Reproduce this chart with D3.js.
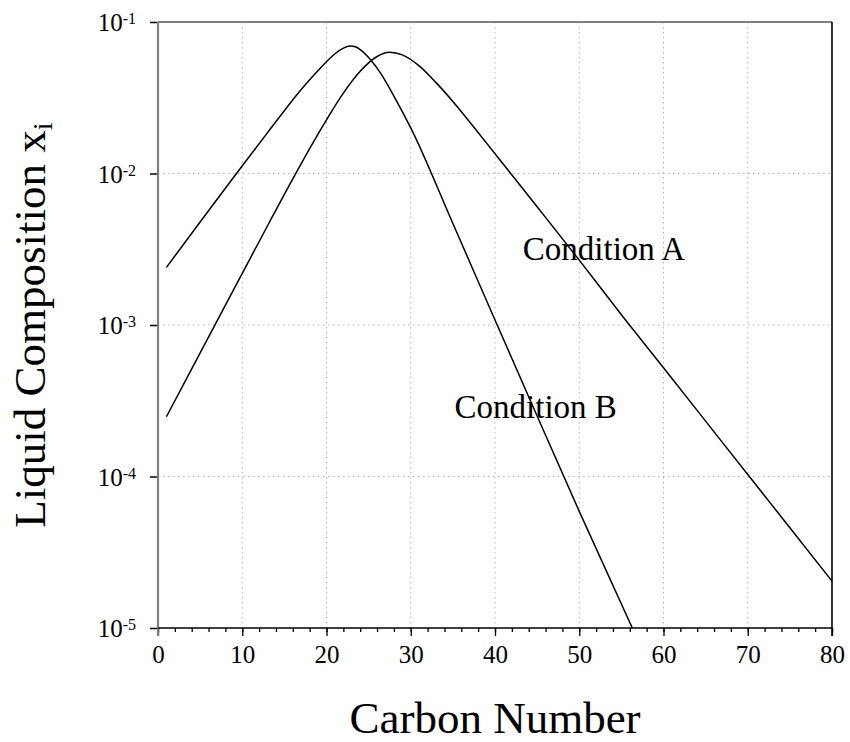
<!DOCTYPE html>
<html lang="en">
<head>
  <meta charset="UTF-8">
  <title>Liquid Composition vs Carbon Number</title>
  <style>
    body { margin: 0; background: #fff; }
    svg text { font-family: "Liberation Serif", "Times New Roman", serif; fill: #000; }
  </style>
</head>
<body>
  <div id="chart"></div>
  <script src="https://d3js.org/d3.v7.min.js"></script>
  <script>

    // Condition A (broad distribution)
    const carbonA = [1, 4, 7, 10, 13, 16, 18, 20, 22, 24, 26, 27.5, 29, 31, 33, 35, 37.5, 40, 45, 50, 55, 60, 65, 70, 75, 80];
    const xiA = [2.48e-4, 5.13e-4, 1.06e-3, 2.19e-3, 4.52e-3, 9.23e-3, 1.46e-2, 2.26e-2, 3.39e-2, 4.73e-2, 5.92e-2, 6.31e-2,
                 6.07e-2, 5.13e-2, 3.98e-2, 2.99e-2, 2.02e-2, 1.35e-2, 6.03e-3, 2.68e-3, 1.17e-3, 5.22e-4, 2.32e-4,
                 1.03e-4, 4.59e-5, 2.04e-5];

    // Condition B (narrow distribution)
    const carbonB = [1, 5, 9, 13, 17, 19, 20, 21, 22, 22.8, 23.5, 24, 25.1, 26.4, 28, 30, 35, 40, 45, 50, 56.3];
    const xiB = [2.40e-3, 4.79e-3, 9.48e-3, 1.86e-2, 3.59e-2, 4.79e-2, 5.47e-2, 6.17e-2, 6.73e-2, 6.95e-2, 6.84e-2,
                 6.58e-2, 5.75e-2, 4.62e-2, 3.24e-2, 2.0e-2, 4.68e-3, 1.08e-3, 2.51e-4, 5.89e-5, 1.0e-5];

    const xTicks = [0, 10, 20, 30, 40, 50, 60, 70, 80];
    const yTicks = [1e-5, 1e-4, 1e-3, 1e-2, 1e-1];

    // label anchors in data units
    const labelNames = ["Condition A", "Condition B"];
    const labelCarbon = [43.3, 35.2];
    const labelXi = [2.69e-3, 2.42e-4];

    const serif = "'Liberation Serif', 'Times New Roman', serif";

    const width = 850,
          height = 742,
          margin = {top: 22, right: 18, bottom: 114, left: 158};

    const svg = d3.select("#chart")
      .append("svg")
      .attr("width", width)
      .attr("height", height)
      .attr("font-family", serif);

    const x = d3.scaleLinear([0, 80], [margin.left, width - margin.right]);
    const y = d3.scaleLog([1e-5, 1e-1], [height - margin.bottom, margin.top]);

    const x0 = x.range()[0], x1 = x.range()[1];
    const y0 = y.range()[0], y1 = y.range()[1];

    // dotted grid
    svg.append("g")
      .selectAll("line")
      .data(xTicks.slice(1, -1))
      .join("line")
      .attr("x1", d => x(d)).attr("x2", d => x(d))
      .attr("y1", y1).attr("y2", y0)
      .attr("stroke", "#b4b4b4")
      .attr("stroke-dasharray", "1.5,3.5");

    svg.append("g")
      .selectAll("line")
      .data(yTicks.slice(1, -1))
      .join("line")
      .attr("x1", x0).attr("x2", x1)
      .attr("y1", d => y(d)).attr("y2", d => y(d))
      .attr("stroke", "#b4b4b4")
      .attr("stroke-dasharray", "1.5,3.5");

    // x axis: minor ticks every 2, major every 10
    svg.append("g")
      .attr("transform", `translate(0,${y0})`)
      .call(d3.axisBottom(x).tickValues(d3.range(0, 81, 2)).tickSize(4).tickFormat(""))
      .call(g => g.select(".domain").remove())
      .call(g => g.selectAll("line").attr("stroke-width", 1.3));

    svg.append("g")
      .attr("transform", `translate(0,${y0})`)
      .call(d3.axisBottom(x).tickValues(xTicks).tickSize(8).tickPadding(9))
      .attr("font-family", serif)
      .attr("font-size", 25)
      .call(g => g.select(".domain").remove())
      .call(g => g.selectAll("line").attr("stroke-width", 1.3));

    // y axis: decades with superscript exponents
    svg.append("g")
      .attr("transform", `translate(${x0},0)`)
      .call(d3.axisLeft(y).tickValues(yTicks).tickSize(8).tickPadding(14).tickFormat(""))
      .attr("font-family", serif)
      .attr("font-size", 25)
      .call(g => g.select(".domain").remove())
      .call(g => g.selectAll("line").attr("stroke-width", 1.5))
      .call(g => g.selectAll(".tick text")
        .attr("dy", "0.35em")
        .each(function(d) {
          const t = d3.select(this);
          t.text("10");
          t.append("tspan")
            .attr("dy", "-0.45em")
            .attr("font-size", 16)
            .text(String(Math.round(Math.log10(d))));
        }));

    // frame: left and top grey, right and bottom black
    svg.append("line")
      .attr("x1", x0).attr("x2", x0).attr("y1", y1).attr("y2", y0 + 8)
      .attr("stroke", "#7f7f7f").attr("stroke-width", 2.2);
    svg.append("line")
      .attr("x1", x0).attr("x2", x1).attr("y1", y1).attr("y2", y1)
      .attr("stroke", "#7f7f7f").attr("stroke-width", 2.2);
    svg.append("line")
      .attr("x1", x0).attr("x2", x1).attr("y1", y0).attr("y2", y0)
      .attr("stroke", "#000").attr("stroke-width", 1.6);
    svg.append("line")
      .attr("x1", x1).attr("x2", x1).attr("y1", y1).attr("y2", y0 + 8)
      .attr("stroke", "#000").attr("stroke-width", 1.6);

    // curves
    const line = d3.line()
      .x(d => x(d[0]))
      .y(d => y(d[1]))
      .curve(d3.curveMonotoneX);

    const series = [d3.zip(carbonA, xiA), d3.zip(carbonB, xiB)];

    svg.append("g")
      .selectAll("path")
      .data(series)
      .join("path")
      .attr("d", line)
      .attr("fill", "none")
      .attr("stroke", "#000")
      .attr("stroke-width", 1.5);

    // curve labels
    svg.append("g")
      .selectAll("text")
      .data(labelNames)
      .join("text")
      .attr("x", (d, i) => x(labelCarbon[i]))
      .attr("y", (d, i) => y(labelXi[i]))
      .attr("font-size", 33)
      .text(d => d);

    // axis titles
    svg.append("text")
      .attr("x", (x0 + x1) / 2)
      .attr("y", 733)
      .attr("text-anchor", "middle")
      .attr("font-size", 45)
      .text("Carbon Number");

    const yTitle = svg.append("text")
      .attr("transform", `translate(45,${(y0 + y1) / 2}) rotate(-90)`)
      .attr("text-anchor", "middle")
      .attr("font-size", 45)
      .text("Liquid Composition x");
    yTitle.append("tspan")
      .attr("dy", "0.25em")
      .attr("font-size", 28)
      .text("i");

  </script>
</body>
</html>
